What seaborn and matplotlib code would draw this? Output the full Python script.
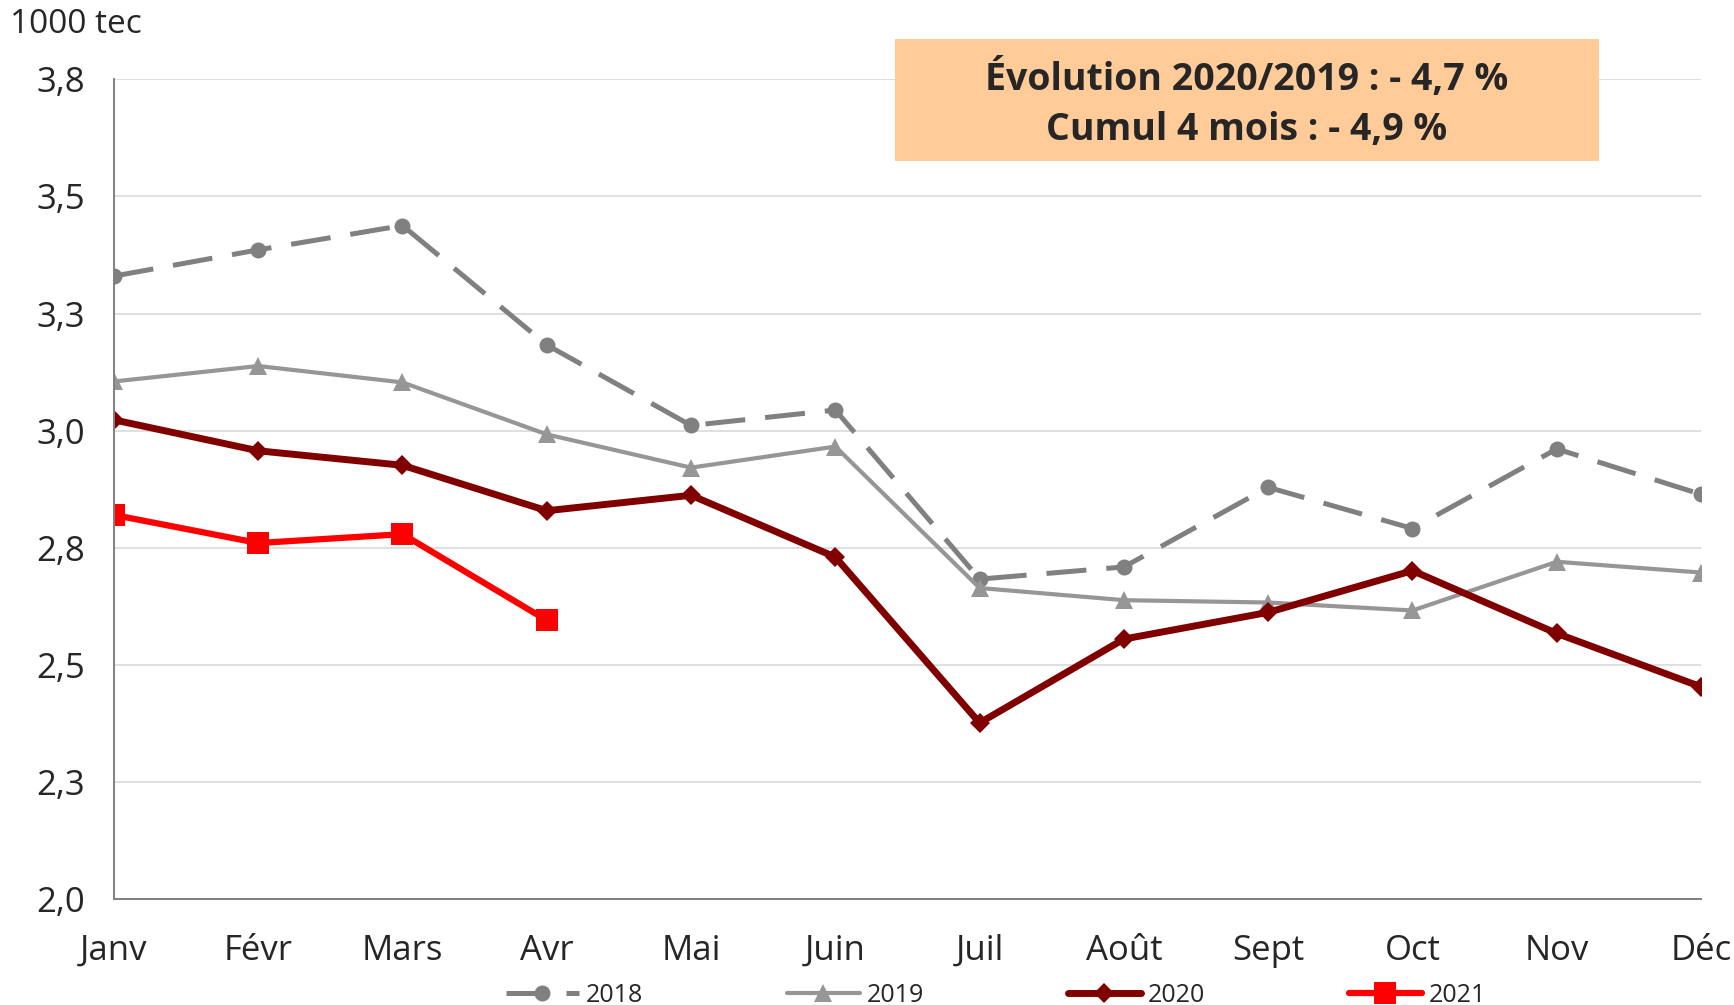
import numpy as np
import pandas as pd
import seaborn as sns
import matplotlib.pyplot as plt
from matplotlib.patches import Rectangle

mois = ['Janv', 'Févr', 'Mars', 'Avr', 'Mai', 'Juin', 'Juil', 'Août', 'Sept', 'Oct', 'Nov', 'Déc']
v2018 = [3.33, 3.386, 3.438, 3.183, 3.011, 3.044, 2.683, 2.709, 2.879, 2.791, 2.961, 2.864]
v2019 = [3.105, 3.138, 3.103, 2.992, 2.921, 2.966, 2.664, 2.638, 2.633, 2.616, 2.72, 2.697]
v2020 = [3.023, 2.957, 2.926, 2.829, 2.862, 2.73, 2.376, 2.555, 2.612, 2.701, 2.567, 2.453]
v2021 = [2.82, 2.76, 2.779, 2.595]
yticks = [2.0, 2.25, 2.5, 2.75, 3.0, 3.25, 3.5, 3.75]
ylabels = ['2,0', '2,3', '2,5', '2,8', '3,0', '3,3', '3,5', '3,8']

sns.set_style('white')
plt.rcParams['font.family'] = ['Open Sans', 'DejaVu Sans']

fig = plt.figure(figsize=(17.34, 10.05), dpi=100)
ax = fig.add_axes([0.0657, 0.1055, 0.9153, 0.8155])

x = np.arange(12)
sns.lineplot(x=x, y=v2018, ax=ax, color='#808080', lw=3.6, marker='o', markersize=11.5,
             markeredgewidth=0, label='2018', linestyle=(0, (8, 4)))
sns.lineplot(x=x, y=v2019, ax=ax, color='#969696', lw=3, marker='^', markersize=13,
             markeredgewidth=0, label='2019')
sns.lineplot(x=x, y=v2020, ax=ax, color='#800000', lw=5, marker='D', markersize=10,
             markeredgewidth=0, label='2020')
sns.lineplot(x=x[:len(v2021)], y=v2021, ax=ax, color='#ff0000', lw=4.5, marker='s', markersize=16.5,
             markeredgewidth=0, label='2021')

ax.set_xlim(0, 11)
ax.set_ylim(2.0, 3.75)
ax.set_xticks(x)
ax.set_xticklabels(mois, fontsize=25)
ax.set_yticks(yticks)
ax.set_yticklabels(ylabels, fontsize=25)
ax.tick_params(axis='both', direction='out', length=9, width=1.3, color='#808080')
ax.tick_params(axis='y', pad=12)
ax.tick_params(axis='x', pad=16)
ax.yaxis.grid(True, color='#d9d9d9', lw=1.2)
ax.set_axisbelow(True)
for s in ['top', 'right']:
    ax.spines[s].set_visible(False)
for s in ['left', 'bottom']:
    ax.spines[s].set_color('#808080')
    ax.spines[s].set_linewidth(1.4)

fig.text(0.006, 0.976, '1000 tec', fontsize=24, va='center', ha='left')

# encadré
fig.patches.append(Rectangle((0.516, 0.840), 0.406, 0.121, transform=fig.transFigure,
                             fc='#ffcc99', ec='none', zorder=5))
fig.text(0.719, 0.8965, 'Évolution 2020/2019 : - 4,7 %\nCumul 4 mois : - 4,9 %',
         ha='center', va='center', fontsize=27, fontweight='bold', linespacing=1.42, zorder=6)

ax.legend(loc='center', bbox_to_anchor=(0.556, -0.118), ncol=4, frameon=False, fontsize=18,
          handlelength=2.9, columnspacing=5.75, handletextpad=0.3)

fig.savefig('out.png', dpi=100)
